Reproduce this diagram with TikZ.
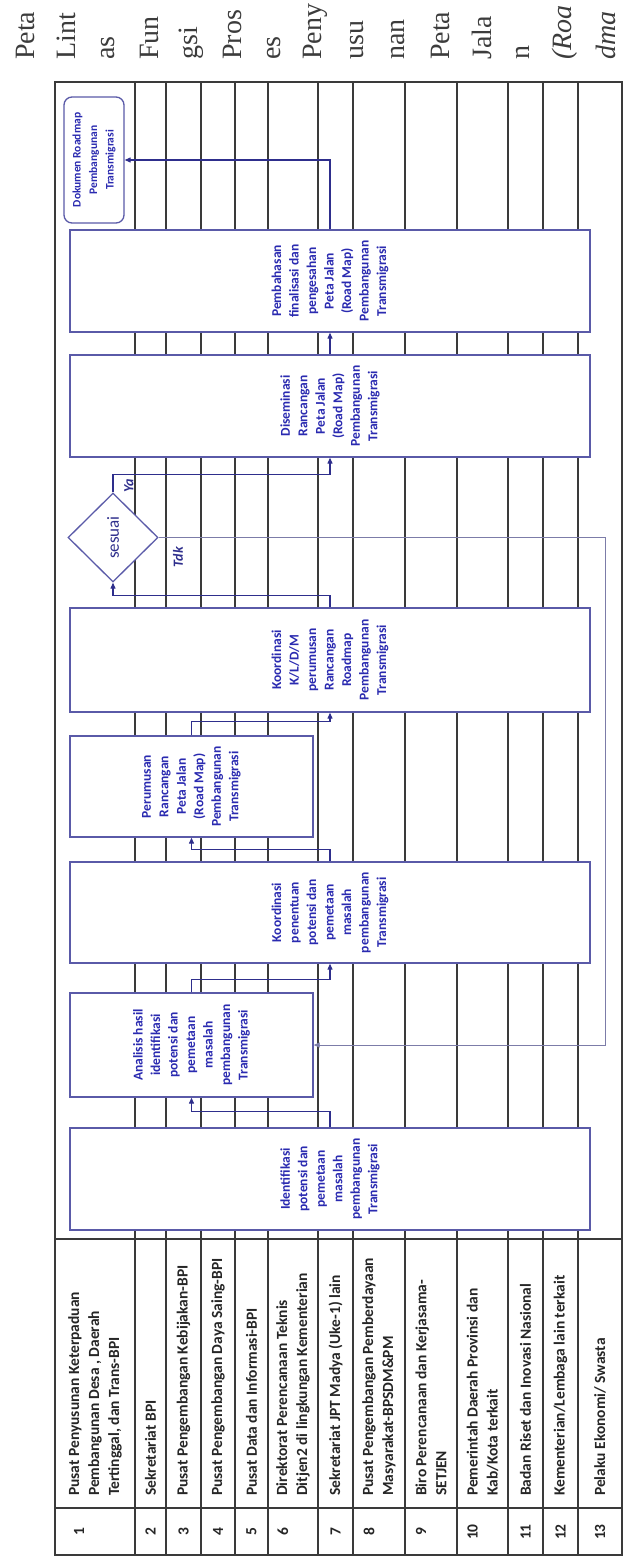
\documentclass[tikz,border=0pt]{standalone}
\usepackage{fontspec}
\setmainfont{Carlito}
\newfontfamily\pagefont{Liberation Serif}
\usetikzlibrary{shapes.geometric, arrows.meta, positioning, calc}
\definecolor{LaneGray}{HTML}{3A3A3A}
\definecolor{BoxBlue}{HTML}{5A5AA8}
\definecolor{TextBlue}{HTML}{2A2AB0}
\definecolor{FlowNavy}{HTML}{2E2E8C}
\definecolor{LabelInk}{HTML}{262626}
\definecolor{PageInk}{HTML}{3C3C3C}
\definecolor{BackLine}{HTML}{7C7CA8}

\tikzset{
  lane/.style={draw=LaneGray, line width=1.2pt},
  frame/.style={draw=LaneGray, line width=1.6pt},
  procbox/.style={draw=BoxBlue, fill=white, line width=1.3pt, inner sep=0pt},
  boxtext/.style={rotate=90, text=TextBlue, align=center, inner sep=0pt,
    font=\fontsize{13.5}{17.5}\selectfont\bfseries},
  lanelabel/.style={rotate=90, anchor=west, align=left, inner sep=0pt, text=LabelInk,
    font=\fontsize{15.5}{20}\selectfont\bfseries},
  lanenum/.style={rotate=90, inner sep=0pt, text=LabelInk,
    font=\fontsize{15.5}{20}\selectfont\bfseries},
  pagetext/.style={rotate=90, anchor=west, inner sep=0pt, text=PageInk,
    font=\pagefont\fontsize{28}{30}\selectfont},
  flow/.style={draw=FlowNavy, line width=1.1pt, -{Triangle[length=6pt,width=5pt]}},
  backflow/.style={draw=BackLine, line width=0.8pt, -{Triangle[length=6pt,width=5pt]}},
  answer/.style={rotate=90, inner sep=0pt, text=FlowNavy,
    font=\fontsize{14}{16}\selectfont\bfseries\itshape}
}

\begin{document}
\begin{tikzpicture}[x=1pt, y=-1pt]
  \useasboundingbox (0,0) rectangle (624,1559);
  \fill[white] (0,0) rectangle (624,1559);

  % page heading, broken into narrow lines
  \foreach \w [count=\i from 0] in {Peta, Lint, as, Fun, gsi, Pros, es, Peny, usu, nan, Peta, Jala, n, \textit{(Roa}, \textit{dma}}
    \node[pagetext] (pg\i) at ({25+41.5*\i},60) {\w};

  % lanes
  \foreach \x in {135,166,201,235,268,318,353,405,457,508,543,578}
    \draw[lane] (\x,82) -- (\x,1555);
  \draw[frame] (55,82) rectangle (622,1555);
  \draw[frame] (55,1239) -- (622,1239);
  \draw[frame] (55,1508) -- (622,1508);

  % lane labels
  \node[lanelabel] (l1) at (95,1496) {Pusat Penyusunan Keterpaduan\\Pembangunan Desa , Daerah\\Tertinggal, dan Trans-BPI};
  \node[lanelabel] (l2) at (150.5,1496) {Sekretariat BPI};
  \node[lanelabel] (l3) at (183.5,1496) {Pusat Pengembangan Kebijakan-BPI};
  \node[lanelabel] (l4) at (218,1496) {Pusat Pengembangan Daya Saing-BPI};
  \node[lanelabel] (l5) at (251.5,1496) {Pusat Data dan Informasi-BPI};
  \node[lanelabel] (l6) at (293,1496) {Direktorat Perencanaan Teknis\\Ditjen2 di lingkungan Kementerian};
  \node[lanelabel] (l7) at (335.5,1496) {Sekretariat JPT Madya (Uke-1) lain};
  \node[lanelabel] (l8) at (379,1496) {Pusat Pengembangan Pemberdayaan\\Masyarakat-BPSDM\&PM};
  \node[lanelabel] (l9) at (431,1496) {Biro Perencanaan dan Kerjasama-\\SETJEN};
  \node[lanelabel] (l10) at (482.5,1496) {Pemerintah Daerah Provinsi dan\\Kab/Kota terkait};
  \node[lanelabel] (l11) at (525.5,1496) {Badan Riset dan Inovasi Nasional};
  \node[lanelabel] (l12) at (560.5,1496) {Kementerian/Lembaga lain terkait};
  \node[lanelabel] (l13) at (600,1496) {Pelaku Ekonomi/ Swasta};
  \foreach \x/\n in {79/1, 150.5/2, 183.5/3, 218/4, 251.5/5, 283/6, 335.5/7, 369/8, 421/9, 472.5/10, 525.5/11, 560.5/12, 600/13}
    \node[lanenum] (n\n) at (\x,1532) {\n};

  % process steps
  \node[procbox, minimum width=520pt, minimum height=102pt] (b1) at (330,1179) {};
  \node[boxtext] (t1) at (b1) {Identifikasi\\potensi dan\\pemetaan\\masalah\\pembangunan\\Transmigrasi};
  \node[procbox, minimum width=243pt, minimum height=104pt] (b2) at (191.5,1045) {};
  \node[boxtext] (t2) at (b2) {Analisis hasil\\identifikasi\\potensi dan\\pemetaan\\masalah\\pembangunan\\Transmigrasi};
  \node[procbox, minimum width=520pt, minimum height=101pt] (b3) at (330,912.5) {};
  \node[boxtext] (t3) at (b3) {Koordinasi\\penentuan\\potensi dan\\pemetaan\\masalah\\pembangunan\\Transmigrasi};
  \node[procbox, minimum width=243pt, minimum height=101pt] (b4) at (191.5,786.5) {};
  \node[boxtext] (t4) at (b4) {Perumusan\\Rancangan\\Peta Jalan\\(Road Map)\\Pembangunan\\Transmigrasi};
  \node[procbox, minimum width=520pt, minimum height=104pt] (b5) at (330,660) {};
  \node[boxtext] (t5) at (b5) {Koordinasi\\K/L/D/M\\perumusan\\Rancangan\\Roadmap\\Pembangunan\\Transmigrasi};
  \node[procbox, diamond, aspect=1, minimum width=90pt, minimum height=89pt] (dec) at (113,537.5) {};
  \node[rotate=90, inner sep=0pt, text=FlowNavy, font=\fontsize{17}{18}\selectfont] (tdec) at (dec) {sesuai};
  \node[procbox, minimum width=520pt, minimum height=102pt] (b6) at (330,406) {};
  \node[boxtext] (t6) at (b6) {Diseminasi\\Rancangan\\Peta Jalan\\(Road Map)\\Pembangunan\\Transmigrasi};
  \node[procbox, minimum width=520pt, minimum height=102pt] (b7) at (330,281) {};
  \node[boxtext] (t7) at (b7) {Pembahasan\\finalisasi dan\\pengesahan\\Peta Jalan\\(Road Map)\\Pembangunan\\Transmigrasi};
  \node[procbox, rounded corners=8pt, minimum width=60pt, minimum height=126pt] (term) at (94,160) {};
  \node[boxtext, font=\fontsize{11.5}{16.5}\selectfont\bfseries] (tterm) at (term) {Dokumen Roadmap\\Pembangunan\\Transmigrasi};

  % flow
  \draw[flow] (b1.north) -- ++(0,-16) -| (b2.south);
  \draw[flow] (b2.north) -- ++(0,-13) -| (b3.south);
  \draw[flow] (b3.north) -- ++(0,-12) -| (b4.south);
  \draw[flow] (b4.north) -- ++(0,-14) -| (b5.south);
  \draw[flow] (b5.north) -- ++(0,-12) -| (dec.south);
  \draw[flow] (dec.north) -- ++(0,-18) -| (b6.south);
  \draw[flow] (b6.north) -- (b7.south);
  \draw[flow] (b7.north) |- (term.east);
  \coordinate (tdk) at (605,537.5);
  \draw[backflow] (dec.east) -- (tdk) |- (b2.east);
  \node[answer] (ya) at (129,486) {Ya};
  \node[answer] (no) at (178,557) {Tdk};
\end{tikzpicture}
\end{document}
